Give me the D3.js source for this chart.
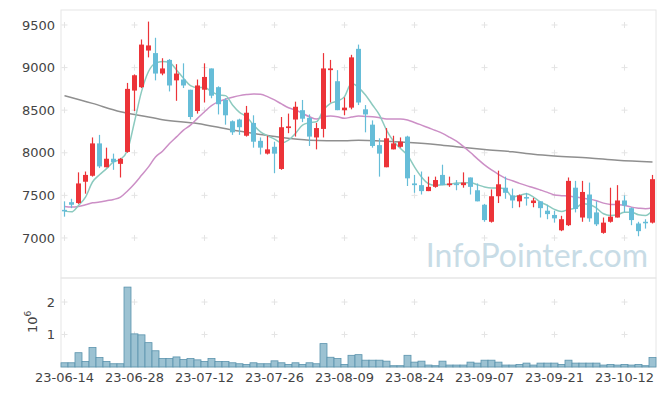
<!DOCTYPE html>
<html>
<head>
<meta charset="utf-8">
<script src="https://cdn.jsdelivr.net/npm/d3@7"></script>
<style>
  body { margin: 0; background: #fff; }
  svg { display: block; }
</style>
</head>
<body>
<div id="chart"></div>
<script>
// trading days (yy-mm-dd)
const dates = [
  "23-06-14","23-06-15","23-06-16","23-06-19","23-06-20","23-06-21","23-06-22","23-06-23","23-06-26","23-06-27",
  "23-06-28","23-06-29","23-06-30","23-07-03","23-07-04","23-07-05","23-07-06","23-07-07","23-07-10","23-07-11",
  "23-07-12","23-07-13","23-07-14","23-07-17","23-07-18","23-07-19","23-07-20","23-07-21","23-07-24","23-07-25",
  "23-07-26","23-07-27","23-07-28","23-07-31","23-08-01","23-08-02","23-08-03","23-08-04","23-08-07","23-08-08",
  "23-08-09","23-08-10","23-08-11","23-08-14","23-08-16","23-08-17","23-08-18","23-08-21","23-08-22","23-08-23",
  "23-08-24","23-08-25","23-08-28","23-08-29","23-08-30","23-08-31","23-09-01","23-09-04","23-09-05","23-09-06",
  "23-09-07","23-09-08","23-09-11","23-09-12","23-09-13","23-09-14","23-09-15","23-09-18","23-09-19","23-09-20",
  "23-09-21","23-09-22","23-09-25","23-09-26","23-09-27","23-10-04","23-10-05","23-10-06","23-10-10","23-10-11",
  "23-10-12","23-10-13","23-10-16","23-10-17","23-10-18"
]

const openP = [
  7330,7420,7410,7660,7730,8110,7830,7930,7870,8010,
  8730,8770,9200,9170,8930,9090,8850,8860,8740,8490,
  8740,8990,8770,8620,8370,8390,8200,8350,8140,7990,
  8070,7810,8290,8390,8500,8410,8180,8280,8970,8840,
  8500,8530,9220,8510,8330,8090,7830,8040,8070,8190,
  7640,7620,7550,7600,7740,7620,7640,7620,7710,7560,
  7390,7190,7490,7590,7500,7430,7480,7410,7430,7320,
  7270,7090,7150,7590,7240,7510,7300,7060,7190,7240,
  7440,7350,7170,7190,7180
]
const highP = [
  7430,7460,7770,7780,8180,8210,8060,7990,7940,8820,
  8920,9330,9540,9350,9110,9100,9040,9050,8740,8860,
  9050,8990,8780,8640,8380,8400,8550,8440,8180,8200,
  8130,8420,8460,8600,8620,8450,8350,9170,9090,8970,
  8650,9150,9270,8560,8380,8170,8290,8200,8180,8200,
  7740,7780,7720,7720,7860,7720,7680,7770,7710,7640,
  7400,7570,7790,7720,7580,7510,7530,7470,7430,7390,
  7320,7260,7710,7670,7670,7650,7430,7240,7590,7620,
  7500,7360,7190,7220,7740
]
const lowP = [
  7250,7350,7400,7520,7720,7820,7830,7800,7710,8000,
  8490,8760,9120,8850,8910,8720,8610,8760,8390,8460,
  8590,8640,8450,8330,8210,8210,8190,8060,7980,7980,
  7760,7800,8230,8190,8360,8080,8040,8180,8590,8500,
  8440,8510,8560,8240,8060,7720,7830,8040,8060,7610,
  7530,7510,7550,7590,7620,7600,7560,7590,7510,7430,
  7190,7180,7410,7460,7350,7360,7380,7360,7240,7220,
  7180,7080,7140,7300,7190,7190,7140,7050,7180,7240,
  7300,7150,7020,7110,7170
]
const closeP = [
  7320,7390,7640,7740,8110,7840,7930,7890,7930,8750,
  8910,9270,9260,8930,8990,8790,8930,8790,8420,8790,
  8890,8670,8570,8440,8240,8300,8470,8130,8060,8040,
  7990,8300,8310,8540,8400,8190,8290,8990,8990,8500,
  8530,9120,8590,8450,8080,7990,8170,8110,8130,7700,
  7620,7550,7600,7680,7620,7640,7620,7650,7600,7430,
  7210,7490,7630,7530,7440,7500,7470,7440,7350,7280,
  7230,7220,7670,7340,7540,7230,7160,7180,7250,7440,
  7380,7210,7080,7180,7690
]
// volume, millions of shares
const volume = [
  0.13,0.13,0.44,0.17,0.60,0.29,0.17,0.10,0.10,2.46,
  1.02,0.99,0.75,0.50,0.26,0.26,0.31,0.23,0.26,0.22,
  0.17,0.26,0.17,0.17,0.13,0.10,0.08,0.13,0.10,0.10,
  0.19,0.13,0.08,0.13,0.08,0.13,0.10,0.72,0.30,0.26,
  0.08,0.36,0.38,0.21,0.21,0.21,0.18,0.04,0.04,0.36,
  0.15,0.18,0.06,0.04,0.18,0.06,0.06,0.06,0.15,0.12,
  0.21,0.21,0.15,0.06,0.06,0.08,0.12,0.06,0.12,0.12,
  0.12,0.08,0.21,0.12,0.12,0.12,0.12,0.06,0.08,0.06,
  0.08,0.06,0.08,0.04,0.29
]
// moving averages
const ma5 = [
  7315,7307,7382,7480,7657,7743,7814,7893,7924,8030,
  8364,8718,8954,9052,9072,9060,8973,8875,8789,8765,
  8765,8718,8679,8671,8561,8474,8423,8325,8246,8199,
  8160,8117,8148,8227,8325,8352,8364,8502,8580,8608,
  8659,8816,8765,8679,8561,8443,8266,8136,8050,7971,
  7834,7716,7637,7618,7625,7629,7645,7645,7649,7625,
  7598,7586,7586,7570,7480,7500,7519,7480,7421,7382,
  7335,7311,7335,7350,7401,7394,7350,7284,7264,7272,
  7303,7303,7272,7264,7323
]
const ma20 = [
  7370,7362,7370,7390,7413,7421,7437,7452,7480,7551,
  7637,7735,7834,7951,8018,8109,8187,8266,8325,8404,
  8482,8553,8600,8628,8651,8671,8683,8690,8686,8659,
  8620,8573,8529,8502,8462,8423,8396,8423,8431,8423,
  8404,8419,8431,8427,8423,8411,8396,8396,8396,8384,
  8356,8325,8293,8262,8227,8183,8136,8073,8003,7928,
  7857,7798,7747,7700,7672,7641,7614,7590,7563,7535,
  7504,7496,7492,7480,7468,7456,7437,7409,7394,7390,
  7382,7362,7350,7342,7354
]
const maLongIdx = [0,4,8,11,14,19,24,28,31,35,40,42,49,53,56,60,64,67,70,75,79,84]
const maLong = [8671,8580,8482,8435,8388,8345,8266,8215,8179,8148,8140,8148,8121,8097,8070,8038,8011,7983,7963,7940,7912,7893]

const tickIdx = [0,10,20,30,40,50,60,70,80]
const priceTicks = [7000,7500,8000,8500,9000,9500]
const volTicks = [1,2]

const width = 665, height = 396
const left = 61, right = 656
const priceTop = 10, priceBottom = 278, volBottom = 367

const svg = d3.select("#chart").append("svg")
    .attr("width", width)
    .attr("height", height)
    .style("font-family", "'DejaVu Sans', sans-serif")

const x = d3.scaleBand()
    .domain(d3.range(dates.length))
    .range([left, right])
    .padding(0)
const cx = i => x(i) + x.bandwidth() / 2

const y = d3.scaleLinear().domain([6530, 9676]).range([priceBottom, priceTop])
const yv = d3.scaleLinear().domain([0, 2.74]).range([volBottom, priceBottom])

// panel frames
svg.append("rect")
    .attr("x", left).attr("y", priceTop)
    .attr("width", right - left).attr("height", priceBottom - priceTop)
    .attr("fill", "none").attr("stroke", "#e6e6e6")
svg.append("rect")
    .attr("x", left).attr("y", priceBottom)
    .attr("width", right - left).attr("height", volBottom - priceBottom)
    .attr("fill", "none").attr("stroke", "#e6e6e6")

// grid crosses
const crosses = svg.append("g").attr("stroke", "#e4e4e4").attr("stroke-width", 1)
const crossPts = []
tickIdx.forEach(i => {
  priceTicks.forEach(p => crossPts.push([cx(i), y(p)]))
  volTicks.forEach(v => crossPts.push([cx(i), yv(v)]))
})
crosses.selectAll("path")
  .data(crossPts)
  .enter().append("path")
    .attr("d", d => `M${d[0] - 3},${d[1]}H${d[0] + 3}M${d[0]},${d[1] - 3}V${d[1] + 3}`)

// watermark
svg.append("text")
    .attr("x", 648).attr("y", 267)
    .attr("text-anchor", "end")
    .attr("font-family", "Lato, sans-serif")
    .attr("font-size", 32)
    .attr("fill", "#c8dce6")
    .text("InfoPointer.com")

// volume bars
svg.append("g")
  .selectAll("rect")
  .data(volume)
  .enter().append("rect")
    .attr("x", (d, i) => x(i))
    .attr("y", d => yv(d))
    .attr("width", x.bandwidth())
    .attr("height", d => yv(0) - yv(d))
    .attr("fill", "#9cc2d2")
    .attr("stroke", "#5a93ad")
    .attr("stroke-width", 0.8)

// moving averages
const lineGen = d3.line().curve(d3.curveMonotoneX)
svg.append("path")
    .attr("d", lineGen(maLongIdx.map((i, k) => [cx(i), y(maLong[k])])))
    .attr("fill", "none").attr("stroke", "#8f8f8f").attr("stroke-width", 1.5)
svg.append("path")
    .attr("d", lineGen(ma20.map((v, i) => [cx(i), y(v)])))
    .attr("fill", "none").attr("stroke", "#cc8fc6").attr("stroke-width", 1.5)
svg.append("path")
    .attr("d", lineGen(ma5.map((v, i) => [cx(i), y(v)])))
    .attr("fill", "none").attr("stroke", "#8ccabf").attr("stroke-width", 1.5)

// candles
const upCol = "#ec3338", downCol = "#66bdd8"
const candles = svg.append("g")
  .selectAll("g")
  .data(dates.map((d, i) => ({i, o: openP[i], h: highP[i], l: lowP[i], c: closeP[i]})))
  .enter().append("g")
    .attr("fill", d => d.c > d.o ? upCol : downCol)
    .attr("stroke", d => d.c > d.o ? upCol : downCol)
candles.append("line")
    .attr("x1", d => cx(d.i)).attr("x2", d => cx(d.i))
    .attr("y1", d => y(d.h)).attr("y2", d => y(d.l))
    .attr("stroke-width", 1.2)
candles.append("rect")
    .attr("x", d => cx(d.i) - 2.5)
    .attr("y", d => y(Math.max(d.o, d.c)))
    .attr("width", 5)
    .attr("height", d => Math.max(1.5, Math.abs(y(d.o) - y(d.c))))
    .attr("stroke", "none")

// axis labels
svg.append("g")
  .selectAll("text")
  .data(priceTicks)
  .enter().append("text")
    .attr("x", 55).attr("y", d => y(d))
    .attr("dy", "0.35em")
    .attr("text-anchor", "end")
    .attr("font-size", 13)
    .attr("fill", "#444")
    .text(d => d)

svg.append("g")
  .selectAll("text")
  .data(volTicks)
  .enter().append("text")
    .attr("x", 55).attr("y", d => yv(d))
    .attr("dy", "0.35em")
    .attr("text-anchor", "end")
    .attr("font-size", 13)
    .attr("fill", "#444")
    .text(d => d)

const vlab = svg.append("text")
    .attr("transform", "translate(37,333) rotate(-90)")
    .attr("font-size", 13)
    .attr("fill", "#444")
vlab.append("tspan").text("10")
vlab.append("tspan").attr("dy", -6).attr("font-size", 9).text("6")

svg.append("g")
  .selectAll("text")
  .data(tickIdx)
  .enter().append("text")
    .attr("x", d => cx(d))
    .attr("y", 382)
    .attr("text-anchor", "middle")
    .attr("font-size", 13)
    .attr("fill", "#444")
    .text(d => dates[d])
</script>
</body>
</html>
